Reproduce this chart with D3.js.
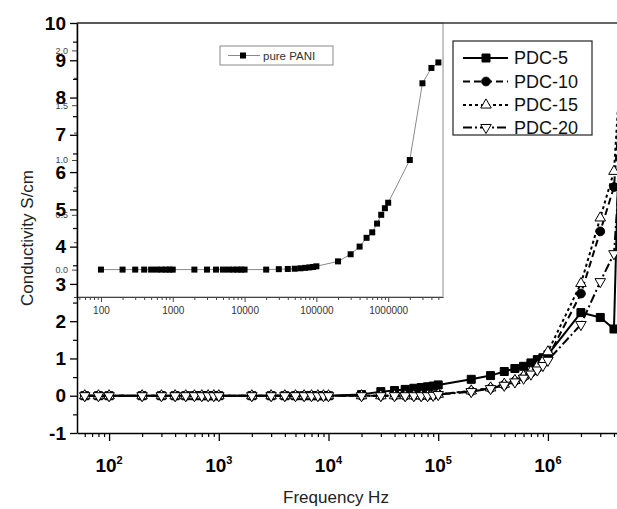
<!DOCTYPE html>
<html>
<head>
<meta charset="utf-8">
<script src="https://cdn.jsdelivr.net/npm/d3@7.9.0/dist/d3.min.js"></script>
<style>
  body { margin: 0; background: #fff; }
  svg { display: block; font-family: Arial, "Liberation Sans", sans-serif; }
</style>
</head>
<body>
<svg id="chart" width="617" height="509"></svg>
<script>
// frequencies (Hz) measured for the composites
const freqs = [60, 80, 100, 200, 300, 400, 500, 600, 700, 800, 900,
  1000, 2000, 3000, 4000, 5000, 6000, 7000, 8000, 9000,
  10000, 20000, 30000, 40000, 50000, 60000, 70000, 80000, 90000,
  100000, 200000, 300000, 400000, 500000, 600000, 700000, 800000, 900000,
  1000000, 2000000, 3000000, 4000000, 5000000];

const pdc5 = [0, 0, 0, 0, 0, 0, 0, 0, 0, 0, 0,
  0, 0, 0, 0, 0, 0, 0, 0, 0,
  0, 0.03, 0.11, 0.14, 0.17, 0.2, 0.22, 0.24, 0.26,
  0.29, 0.44, 0.54, 0.65, 0.73, 0.79, 0.88, 0.97, 1.02,
  1.1, 2.23, 2.1, 1.79, 12.5];
const pdc10 = [0, 0, 0, 0, 0, 0, 0, 0, 0, 0, 0,
  0, 0, 0, 0, 0, 0, 0, 0, 0,
  0, 0, 0, 0, 0, 0, 0, 0, 0.01,
  0.04, 0.12, 0.2, 0.29, 0.39, 0.5, 0.61, 0.73, 0.87,
  1.03, 2.74, 4.41, 5.6, 9.5];
const pdc15 = [0, 0, 0, 0, 0, 0, 0, 0, 0, 0, 0,
  0, 0, 0, 0, 0, 0, 0, 0, 0,
  0, 0, 0, 0, 0, 0, 0, 0, 0.01,
  0.04, 0.13, 0.21, 0.31, 0.41, 0.53, 0.65, 0.79, 0.93,
  1.18, 3.01, 4.77, 6.02, 10.5];
const pdc20 = [0, 0, 0, 0, 0, 0, 0, 0, 0, 0, 0,
  0, 0, 0, 0, 0, 0, 0, 0, 0,
  0, 0, 0, 0, 0, 0, 0, 0, 0.01,
  0.03, 0.11, 0.19, 0.28, 0.37, 0.47, 0.58, 0.69, 0.81,
  0.95, 1.91, 3.06, 3.81, 8];

const seriesNames = ["PDC-5", "PDC-10", "PDC-15", "PDC-20"];

// inset: pure PANI
const insetFreqs = [100, 200, 300, 400, 500, 600, 700, 800, 900,
  1000, 2000, 3000, 4000, 5000, 6000, 7000, 8000, 9000,
  10000, 20000, 30000, 40000, 50000, 60000, 70000, 80000, 90000,
  100000, 200000, 300000, 400000, 500000, 600000, 700000, 800000, 900000,
  1000000, 2000000, 3000000, 4000000, 5000000];
const pani = [0, 0, 0, 0, 0, 0, 0, 0, 0,
  0, 0, 0, 0, 0, 0, 0, 0, 0,
  0, 0, 0.004, 0.006, 0.008, 0.012, 0.016, 0.02, 0.024,
  0.03, 0.075, 0.14, 0.21, 0.29, 0.34, 0.42, 0.5, 0.56,
  0.61, 1.0, 1.7, 1.84, 1.89];

// tick values
const yTicks = [-1, 0, 1, 2, 3, 4, 5, 6, 7, 8, 9, 10];
const xDecades = [100, 1000, 10000, 100000, 1000000];
const insetYTicks = [0, 0.5, 1.0, 1.5, 2.0];
const insetXTicks = [100, 1000, 10000, 100000, 1000000];

const svg = d3.select("#chart");

const x = d3.scaleLog().domain([51, 5.6e6]).range([77, 630]);
const y = d3.scaleLinear().domain([-1, 10]).range([433, 23]);
const ix = d3.scaleLog().domain([46.4, 5.8e6]).range([77, 443]);
const iy = d3.scaleLinear().domain([-0.25, 2.25]).range([297, 23]);

// minor ticks for log axes
function minorLog(scale) {
  const [a, b] = scale.domain();
  const out = [];
  for (let e = Math.floor(Math.log10(a)); e <= Math.ceil(Math.log10(b)); e++) {
    for (let k = 2; k <= 9; k++) {
      const v = k * Math.pow(10, e);
      if (v >= a && v <= b) out.push(v);
    }
  }
  return out;
}

// ---------- inset ----------
const inset = svg.append("g");
inset.append("rect")
  .attr("x", 77).attr("y", 23).attr("width", 366).attr("height", 274)
  .attr("fill", "#fff").attr("stroke", "#b4b4b4").attr("stroke-width", 1.5);

const ixAxis = inset.append("g").attr("transform", "translate(0,297)")
  .call(d3.axisBottom(ix).tickValues(insetXTicks).tickSize(5).tickSizeOuter(0)
    .tickPadding(5).tickFormat(d3.format("d")));
ixAxis.select(".domain").attr("stroke", "#444");
ixAxis.selectAll(".tick line").attr("stroke", "#444");
ixAxis.selectAll("text").attr("font-size", 10).attr("fill", "#333")
  .attr("font-family", "Arial, 'Liberation Sans', sans-serif");
inset.append("g").attr("transform", "translate(0,297)")
  .call(d3.axisBottom(ix).tickValues(minorLog(ix)).tickSize(3).tickFormat(""))
  .call(g => g.select(".domain").remove())
  .selectAll("line").attr("stroke", "#444");

const iyAxis = inset.append("g").attr("transform", "translate(77,0)")
  .call(d3.axisLeft(iy).tickValues(insetYTicks).tickSize(5).tickSizeOuter(0)
    .tickPadding(4).tickFormat(d3.format(".1f")));
iyAxis.select(".domain").remove();
iyAxis.selectAll(".tick line").attr("stroke", "#444");
iyAxis.selectAll("text").attr("font-size", 9).attr("fill", "#444")
  .attr("font-family", "Arial, 'Liberation Sans', sans-serif");
inset.append("g").attr("transform", "translate(77,0)")
  .call(d3.axisLeft(iy).tickValues([-0.25, 0.25, 0.75, 1.25, 1.75, 2.25]).tickSize(3).tickFormat(""))
  .call(g => g.select(".domain").remove())
  .selectAll("line").attr("stroke", "#444");

const paniData = insetFreqs.map((f, i) => [f, pani[i]]);
inset.append("path")
  .datum(paniData)
  .attr("fill", "none").attr("stroke", "#8a8a8a").attr("stroke-width", 1)
  .attr("d", d3.line().x(d => ix(d[0])).y(d => iy(d[1])));
inset.selectAll(".pani").data(paniData).join("rect")
  .attr("x", d => ix(d[0]) - 3).attr("y", d => iy(d[1]) - 3)
  .attr("width", 6).attr("height", 6).attr("fill", "#000");

// inset legend
const il = inset.append("g");
il.append("rect").attr("x", 220).attr("y", 46).attr("width", 113).attr("height", 19)
  .attr("fill", "#fff").attr("stroke", "#8a8a8a").attr("stroke-width", 1);
il.append("line").attr("x1", 228).attr("x2", 260).attr("y1", 55.5).attr("y2", 55.5)
  .attr("stroke", "#8a8a8a");
il.append("rect").attr("x", 240).attr("y", 52.5).attr("width", 6).attr("height", 6).attr("fill", "#000");
il.append("text").attr("x", 263).attr("y", 55.5).attr("dy", "0.35em")
  .attr("font-size", 11.5).attr("fill", "#333").text("pure PANI");

// ---------- main axes ----------
const frame = svg.append("g");
frame.append("line").attr("x1", 77).attr("x2", 630).attr("y1", 23).attr("y2", 23)
  .attr("stroke", "#333").attr("stroke-width", 1.3);

const yAxis = svg.append("g").attr("transform", "translate(77,0)")
  .call(d3.axisLeft(y).tickValues(yTicks).tickSize(7).tickSizeOuter(0)
    .tickPadding(4).tickFormat(d => String(d)));
yAxis.select(".domain").attr("stroke-width", 1.5);
yAxis.selectAll(".tick line").attr("stroke-width", 1.3);
yAxis.selectAll("text").attr("font-size", 19).attr("font-weight", "bold")
  .attr("fill", "#000").attr("font-family", "Arial, 'Liberation Sans', sans-serif");
svg.append("g").attr("transform", "translate(77,0)")
  .call(d3.axisLeft(y).tickValues(yTicks.slice(0, -1).map(v => v + 0.5)).tickSize(4).tickFormat(""))
  .call(g => g.select(".domain").remove())
  .selectAll("line").attr("stroke-width", 1.2);

const xAxis = svg.append("g").attr("transform", "translate(0,433)")
  .call(d3.axisBottom(x).tickValues(xDecades).tickSize(8).tickSizeOuter(0).tickFormat(""));
xAxis.select(".domain").attr("stroke-width", 1.5);
xAxis.selectAll(".tick line").attr("stroke-width", 1.3);
svg.append("g").attr("transform", "translate(0,433)")
  .call(d3.axisBottom(x).tickValues(minorLog(x)).tickSize(4).tickFormat(""))
  .call(g => g.select(".domain").remove())
  .selectAll("line").attr("stroke-width", 1.2);

// 10^n labels
const xl = svg.append("g").attr("font-weight", "bold").attr("fill", "#000");
xDecades.forEach(v => {
  const t = xl.append("text").attr("x", x(v)).attr("y", 472)
    .attr("text-anchor", "middle").attr("font-size", 19);
  t.append("tspan").text("10");
  t.append("tspan").attr("font-size", 11).attr("dy", -8).text(Math.round(Math.log10(v)));
});

svg.append("text").attr("x", 336).attr("y", 503).attr("text-anchor", "middle")
  .attr("font-size", 17).attr("fill", "#222").text("Frequency Hz");
svg.append("text").attr("transform", "translate(33,238) rotate(-90)")
  .attr("text-anchor", "middle").attr("font-size", 17).attr("fill", "#222")
  .text("Conductivity S/cm");

// ---------- main data ----------
svg.append("clipPath").attr("id", "plotclip").append("rect")
  .attr("x", 77).attr("y", 23).attr("width", 553).attr("height", 410);

const styles = [
  { dash: null, sym: d3.symbolSquare, size: 64, fill: "#000", rot: 0 },
  { dash: "7,4", sym: d3.symbolCircle, size: 60, fill: "#000", rot: 0 },
  { dash: "3,3", sym: d3.symbolTriangle, size: 48, fill: "#fff", rot: 0 },
  { dash: "9,3,2,3", sym: d3.symbolTriangle, size: 48, fill: "#fff", rot: 180 }
];
const allSeries = [pdc5, pdc10, pdc15, pdc20];

const plot = svg.append("g").attr("clip-path", "url(#plotclip)");
const line = d3.line().x(d => x(d[0])).y(d => y(d[1]));
allSeries.forEach((vals, s) => {
  const st = styles[s];
  const pts = freqs.map((f, i) => [f, vals[i]]);
  plot.append("path").datum(pts)
    .attr("fill", "none").attr("stroke", "#000").attr("stroke-width", 2)
    .attr("stroke-dasharray", st.dash)
    .attr("d", line);
});
allSeries.forEach((vals, s) => {
  const st = styles[s];
  const pts = freqs.map((f, i) => [f, vals[i]]);
  plot.selectAll(null).data(pts).join("path")
    .attr("transform", d => `translate(${x(d[0])},${y(d[1])}) rotate(${st.rot})`)
    .attr("d", d3.symbol().type(st.sym).size(st.size))
    .attr("fill", st.fill).attr("stroke", "#000").attr("stroke-width", 1);
});

// ---------- legend ----------
const lg = svg.append("g");
lg.append("rect").attr("x", 453).attr("y", 41).attr("width", 139).attr("height", 94)
  .attr("fill", "#fff").attr("stroke", "#222").attr("stroke-width", 1.2);
const rowY = [58, 81.5, 105, 127.5];
seriesNames.forEach((name, s) => {
  const st = styles[s];
  lg.append("line").attr("x1", 463).attr("x2", 508).attr("y1", rowY[s]).attr("y2", rowY[s])
    .attr("stroke", "#000").attr("stroke-width", 2).attr("stroke-dasharray", st.dash);
  lg.append("path")
    .attr("transform", `translate(486,${rowY[s]}) rotate(${st.rot})`)
    .attr("d", d3.symbol().type(st.sym).size(st.size))
    .attr("fill", st.fill).attr("stroke", "#000").attr("stroke-width", 1);
  lg.append("text").attr("x", 514).attr("y", rowY[s]).attr("dy", "0.36em")
    .attr("font-size", 18).attr("fill", "#111").text(name);
});
</script>
</body>
</html>
